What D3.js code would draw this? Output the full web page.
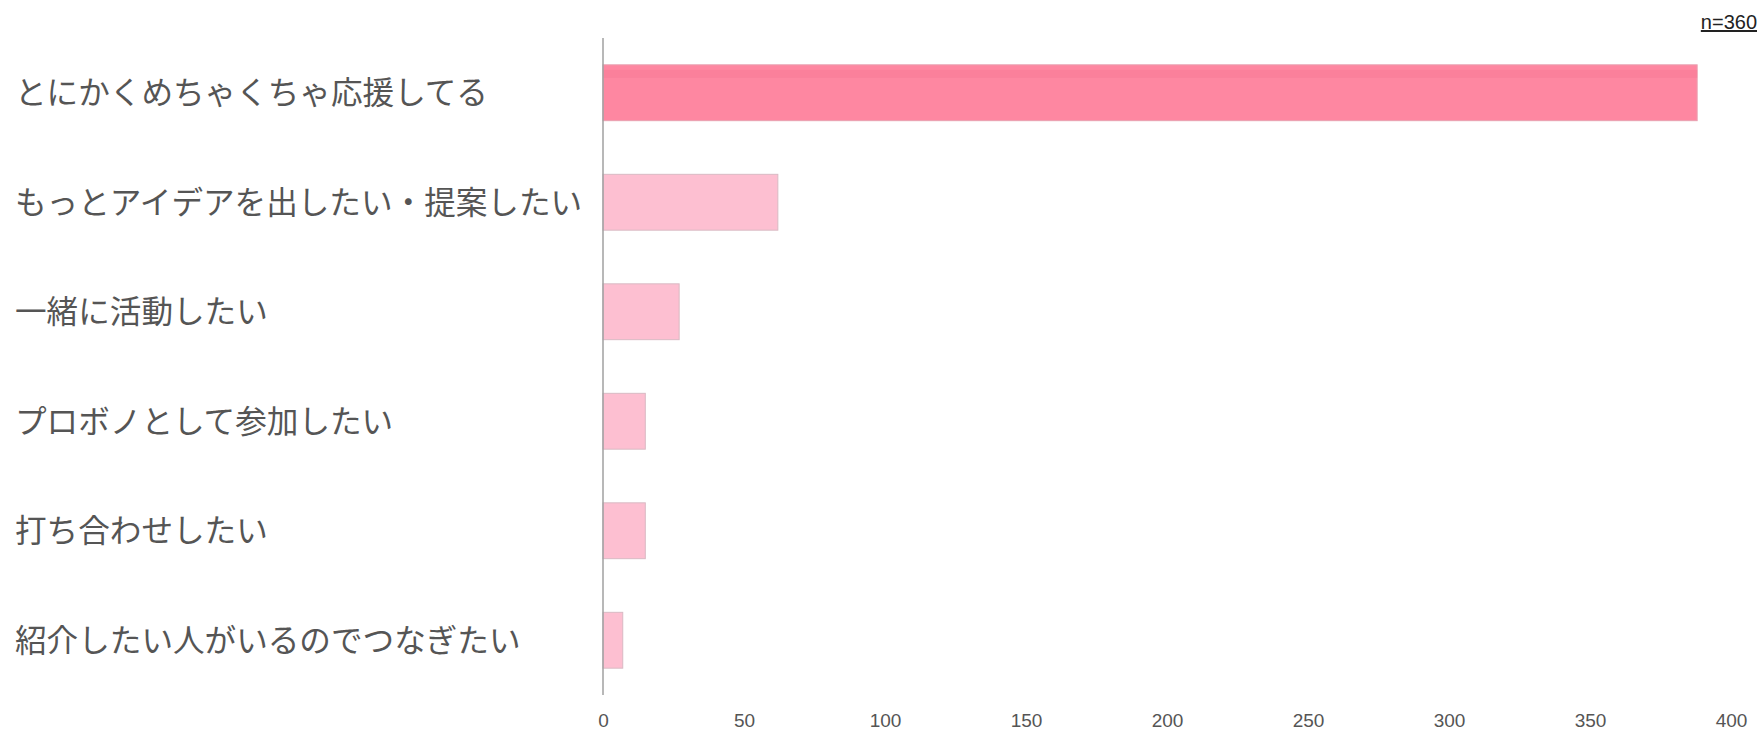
<!DOCTYPE html>
<html><head><meta charset="utf-8">
<script src="https://cdn.jsdelivr.net/npm/d3@7"></script>
<style>body{margin:0;background:#fff;}svg{display:block;}</style>
</head><body>
<svg id="chart" width="1759" height="733"></svg>
<script>
const categories = ["とにかくめちゃくちゃ応援してる","もっとアイデアを出したい・提案したい","一緒に活動したい","プロボノとして参加したい","打ち合わせしたい","紹介したい人がいるのでつなぎたい"];
const values = [388, 62, 27, 15, 15, 7];
const xTicks = [0, 50, 100, 150, 200, 250, 300, 350, 400];
const note = "n=360";

const svg = d3.select("#chart");
const x = d3.scaleLinear().domain([0, 400]).range([603, 1731]);
const y = d3.scaleBand().domain(categories).range([38, 695]).paddingInner(0.49).paddingOuter(0.245);

// bars
svg.selectAll("rect.bar").data(values).join("rect")
  .attr("x", x(0)).attr("y", (d, i) => y(categories[i]))
  .attr("width", d => x(d) - x(0)).attr("height", y.bandwidth())
  .attr("fill", (d, i) => i === 0 ? "#fe87a1" : "#fdbfd1")
  .attr("stroke", (d, i) => i === 0 ? "#e8a0b0" : "#d9b9c3")
  .attr("stroke-width", 1);
// top stripe on first bar
svg.append("rect").attr("x", x(0)).attr("y", y(categories[0]) + 5)
  .attr("width", x(values[0]) - x(0)).attr("height", 8).attr("fill", "#f97c98").attr("opacity", 0.6);

// axis line
svg.append("line").attr("x1", x(0)).attr("x2", x(0)).attr("y1", 38).attr("y2", 695)
  .attr("stroke", "#a0a0a0").attr("stroke-width", 1.5);

// x tick labels
const xAxis = d3.axisBottom(x).tickValues(xTicks).tickSize(0).tickPadding(0);
const gx = svg.append("g").attr("transform", "translate(0,713)").call(xAxis);
gx.select(".domain").remove();
gx.selectAll("text").attr("font-family", "'Liberation Sans', Arial, sans-serif")
  .attr("font-size", 19).attr("fill", "#555").attr("dy", "0.71em");

// category labels
const yAxis = d3.axisLeft(y).tickSize(0).tickPadding(0);
const gy = svg.append("g").attr("transform", "translate(15,0)").call(yAxis);
gy.select(".domain").remove();
gy.selectAll("text").attr("text-anchor", "start").attr("x", 0)
  .attr("font-family", "'Noto Sans CJK JP', sans-serif").attr("font-size", 31.6)
  .attr("fill", "#555").attr("dy", "0.36em");

// note
svg.append("text").attr("x", 1757).attr("y", 29).attr("text-anchor", "end")
  .attr("font-family", "'Liberation Sans', Arial, sans-serif").attr("font-size", 20)
  .attr("fill", "#222").attr("text-decoration", "underline").text(note);
</script>
</body></html>
